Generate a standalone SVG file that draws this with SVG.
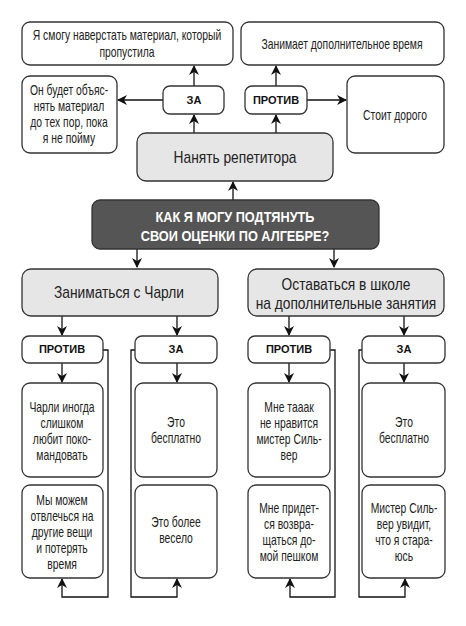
<svg xmlns="http://www.w3.org/2000/svg" width="466" height="626" viewBox="0 0 466 626">
<defs>
<marker id="ah" viewBox="0 0 10 10" refX="9" refY="5" markerWidth="10" markerHeight="10" markerUnits="userSpaceOnUse" orient="auto">
<path d="M0,0 L10,5 L0,10 L3,5 z" fill="#111"/>
</marker>
</defs>
<style>
.box{fill:#fff;stroke:#333;stroke-width:1.3}
.gray{fill:#e6e6e6;stroke:#333;stroke-width:1.3}
.dark{fill:#555;stroke:#333;stroke-width:1.3}
.t{font-family:"Liberation Sans","Arial",sans-serif;font-size:14px;fill:#222;text-anchor:middle}
.tl{font-family:"Liberation Sans","Arial",sans-serif;font-size:16px;fill:#222;text-anchor:middle}
.q{font-family:"Liberation Sans","Arial",sans-serif;font-size:15px;font-weight:bold;fill:#fff;text-anchor:middle}
.b{font-family:"Liberation Sans","Arial",sans-serif;font-size:11px;font-weight:bold;fill:#111;text-anchor:middle}
.c{fill:none;stroke:#111;stroke-width:1.3}
</style>
<g id="connectors">
<path class="c" d="M194,133 V115" marker-end="url(#ah)"/>
<path class="c" d="M194,86 V66" marker-end="url(#ah)"/>
<path class="c" d="M163,100 H118" marker-end="url(#ah)"/>
<path class="c" d="M276,133 V115" marker-end="url(#ah)"/>
<path class="c" d="M276,86 V66" marker-end="url(#ah)"/>
<path class="c" d="M307,100 H346" marker-end="url(#ah)"/>
<path class="c" d="M233,200 V182" marker-end="url(#ah)"/>
<path class="c" d="M137,249 V267" marker-end="url(#ah)"/>
<path class="c" d="M334,249 V267" marker-end="url(#ah)"/>
<path class="c" d="M62,316 V335" marker-end="url(#ah)"/>
<path class="c" d="M177,316 V335" marker-end="url(#ah)"/>
<path class="c" d="M289,316 V335" marker-end="url(#ah)"/>
<path class="c" d="M404,316 V335" marker-end="url(#ah)"/>
<path class="c" d="M62,363 V382" marker-end="url(#ah)"/>
<path class="c" d="M177,363 V382" marker-end="url(#ah)"/>
<path class="c" d="M289,363 V382" marker-end="url(#ah)"/>
<path class="c" d="M404,363 V382" marker-end="url(#ah)"/>
<path class="c" d="M103,350 H108 V597 H62 V579" marker-end="url(#ah)"/>
<path class="c" d="M135,350 H131 V597 H177 V579" marker-end="url(#ah)"/>
<path class="c" d="M330,350 H335 V597 H290 V579" marker-end="url(#ah)"/>
<path class="c" d="M362,350 H359 V597 H405 V579" marker-end="url(#ah)"/>
</g>
<g id="n-top-left">
<rect class="box" x="22" y="22" width="211" height="43" rx="8"/>
<text class="t" transform="translate(127,40) scale(0.74,1)">Я смогу наверстать материал, который</text>
<text class="t" transform="translate(127,57) scale(0.74,1)">пропустила</text>
</g>
<g id="n-top-right">
<rect class="box" x="241" y="22" width="203" height="43" rx="8"/>
<text class="t" transform="translate(342,49) scale(0.74,1)">Занимает дополнительное время</text>
</g>
<g id="n-explain">
<rect class="box" x="22" y="76" width="95" height="77" rx="8"/>
<text class="t" transform="translate(69,95) scale(0.74,1)">Он будет объяс-</text>
<text class="t" transform="translate(69,111) scale(0.74,1)">нять материал</text>
<text class="t" transform="translate(69,127) scale(0.74,1)">до тех пор, пока</text>
<text class="t" transform="translate(69,143) scale(0.74,1)">я не пойму</text>
</g>
<g id="n-za-top">
<rect class="box" x="163" y="86" width="61" height="28" rx="7"/>
<text class="b" x="194" y="104">ЗА</text>
</g>
<g id="n-protiv-top">
<rect class="box" x="245" y="86" width="62" height="28" rx="7"/>
<text class="b" x="276" y="104">ПРОТИВ</text>
</g>
<g id="n-expensive">
<rect class="box" x="347" y="76" width="97" height="77" rx="8"/>
<text class="t" transform="translate(395,120) scale(0.74,1)">Стоит дорого</text>
</g>
<g id="n-tutor">
<rect class="gray" x="137" y="133" width="196" height="48" rx="9"/>
<text class="tl" transform="translate(235,163) scale(0.86,1)">Нанять репетитора</text>
</g>
<g id="n-question">
<rect class="dark" x="92" y="200" width="287" height="49" rx="8"/>
<text class="q" transform="translate(235,222) scale(0.85,1)">КАК Я МОГУ ПОДТЯНУТЬ</text>
<text class="q" transform="translate(235,241) scale(0.85,1)">СВОИ ОЦЕНКИ ПО АЛГЕБРЕ?</text>
</g>
<g id="n-charlie">
<rect class="gray" x="22" y="269" width="196" height="47" rx="9"/>
<text class="tl" transform="translate(119,298) scale(0.86,1)">Заниматься с Чарли</text>
</g>
<g id="n-school">
<rect class="gray" x="248" y="269" width="196" height="47" rx="9"/>
<text class="tl" transform="translate(346,290) scale(0.86,1)">Оставаться в школе</text>
<text class="tl" transform="translate(346,309) scale(0.86,1)">на дополнительные занятия</text>
</g>
<g id="n-c-protiv">
<rect class="box" x="22" y="336" width="81" height="27" rx="7"/>
<text class="b" x="62" y="353">ПРОТИВ</text>
</g>
<g id="n-c-za">
<rect class="box" x="135" y="336" width="82" height="27" rx="7"/>
<text class="b" x="176" y="353">ЗА</text>
</g>
<g id="n-s-protiv">
<rect class="box" x="248" y="336" width="82" height="27" rx="7"/>
<text class="b" x="289" y="353">ПРОТИВ</text>
</g>
<g id="n-s-za">
<rect class="box" x="362" y="336" width="83" height="27" rx="7"/>
<text class="b" x="404" y="353">ЗА</text>
</g>
<g id="n-c1">
<rect class="box" x="22" y="383" width="81" height="94" rx="8"/>
<text class="t" transform="translate(62,412) scale(0.74,1)">Чарли иногда</text>
<text class="t" transform="translate(62,428) scale(0.74,1)">слишком</text>
<text class="t" transform="translate(62,444) scale(0.74,1)">любит поко-</text>
<text class="t" transform="translate(62,460) scale(0.74,1)">мандовать</text>
</g>
<g id="n-c2">
<rect class="box" x="22" y="485" width="81" height="93" rx="8"/>
<text class="t" transform="translate(62,505) scale(0.74,1)">Мы можем</text>
<text class="t" transform="translate(62,521) scale(0.74,1)">отвлечься на</text>
<text class="t" transform="translate(62,537) scale(0.74,1)">другие вещи</text>
<text class="t" transform="translate(62,553) scale(0.74,1)">и потерять</text>
<text class="t" transform="translate(62,569) scale(0.74,1)">время</text>
</g>
<g id="n-c3">
<rect class="box" x="135" y="383" width="82" height="94" rx="8"/>
<text class="t" transform="translate(176,427) scale(0.74,1)">Это</text>
<text class="t" transform="translate(176,443) scale(0.74,1)">бесплатно</text>
</g>
<g id="n-c4">
<rect class="box" x="135" y="485" width="82" height="93" rx="8"/>
<text class="t" transform="translate(176,527) scale(0.74,1)">Это более</text>
<text class="t" transform="translate(176,543) scale(0.74,1)">весело</text>
</g>
<g id="n-s1">
<rect class="box" x="248" y="383" width="82" height="94" rx="8"/>
<text class="t" transform="translate(289,412) scale(0.74,1)">Мне тааак</text>
<text class="t" transform="translate(289,428) scale(0.74,1)">не нравится</text>
<text class="t" transform="translate(289,444) scale(0.74,1)">мистер Силь-</text>
<text class="t" transform="translate(289,460) scale(0.74,1)">вер</text>
</g>
<g id="n-s2">
<rect class="box" x="248" y="485" width="82" height="93" rx="8"/>
<text class="t" transform="translate(289,513) scale(0.74,1)">Мне придет-</text>
<text class="t" transform="translate(289,529) scale(0.74,1)">ся возвра-</text>
<text class="t" transform="translate(289,545) scale(0.74,1)">щаться до-</text>
<text class="t" transform="translate(289,561) scale(0.74,1)">мой пешком</text>
</g>
<g id="n-s3">
<rect class="box" x="362" y="383" width="83" height="94" rx="8"/>
<text class="t" transform="translate(404,427) scale(0.74,1)">Это</text>
<text class="t" transform="translate(404,443) scale(0.74,1)">бесплатно</text>
</g>
<g id="n-s4">
<rect class="box" x="362" y="485" width="83" height="93" rx="8"/>
<text class="t" transform="translate(404,513) scale(0.74,1)">Мистер Силь-</text>
<text class="t" transform="translate(404,529) scale(0.74,1)">вер увидит,</text>
<text class="t" transform="translate(404,545) scale(0.74,1)">что я стара-</text>
<text class="t" transform="translate(404,561) scale(0.74,1)">юсь</text>
</g>
</svg>
